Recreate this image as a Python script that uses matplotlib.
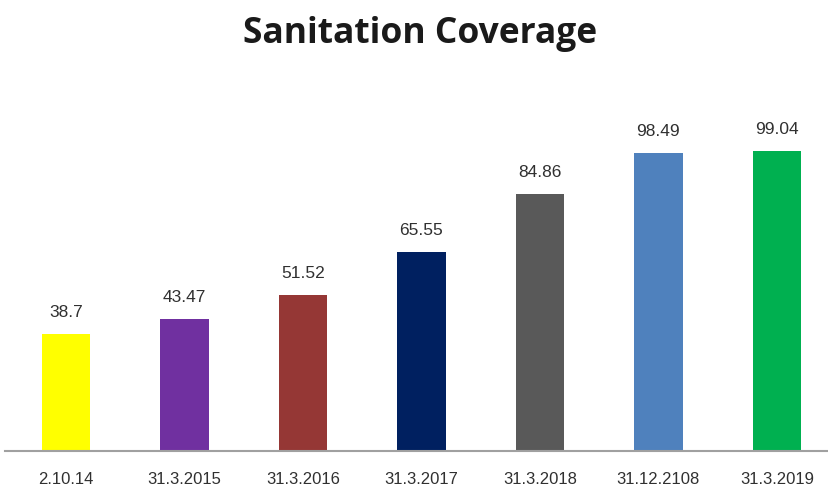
import matplotlib
matplotlib.use("Agg")
from matplotlib import pyplot as plt

# Sanitation coverage (%) at each reporting date
dates = ["2.10.14", "31.3.2015", "31.3.2016", "31.3.2017", "31.3.2018", "31.12.2108", "31.3.2019"]
coverage = [38.7, 43.47, 51.52, 65.55, 84.86, 98.49, 99.04]
bar_colors = ["#FFFF00", "#7030A0", "#953735", "#002060", "#595959", "#4F81BD", "#00B050"]

fig = plt.figure(figsize=(8.29, 4.91), dpi=100)
ax = fig.add_axes([5 / 829, 1 - 451 / 491, 824 / 829, 363.6 / 491])

x = range(len(dates))
bars = ax.bar(x, coverage, width=0.41, color=bar_colors)

# value labels above each bar
for b, v in zip(bars, coverage):
    ax.annotate(f"{v:g}", (b.get_x() + b.get_width() / 2, v),
                xytext=(0, 10), textcoords="offset points",
                ha="center", va="bottom", fontsize=12.5, color="#303030",
                family=["Liberation Sans", "DejaVu Sans"])

ax.set_xlim(-0.515, 6.44)
ax.set_ylim(0, 120)
ax.set_xticks(list(x))
ax.set_xticklabels(dates, fontsize=12, color="#303030",
                   family=["Liberation Sans", "DejaVu Sans"])
ax.tick_params(axis="x", length=0, pad=15)
ax.set_yticks([])
for side in ["left", "right", "top"]:
    ax.spines[side].set_visible(False)
ax.spines["bottom"].set_color("#A0A0A0")
ax.spines["bottom"].set_linewidth(1.5)

fig.text(0.507, 1 - 34 / 491, "Sanitation Coverage", ha="center", va="center",
         fontsize=25.5, fontweight="bold", color="#1a1a1a",
         family=["Open Sans", "DejaVu Sans"])

fig.savefig("out.png", dpi=100)
